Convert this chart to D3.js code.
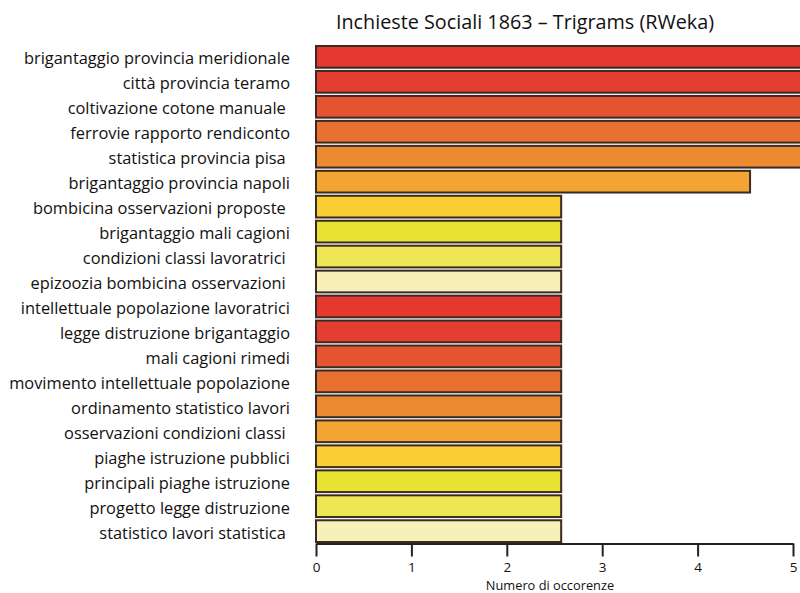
<!DOCTYPE html>
<html><head><meta charset="utf-8">
<script src="https://cdn.jsdelivr.net/npm/d3@7"></script>
<style>
body{margin:0;background:#fff;}
text{font-family:"Open Sans","Noto Sans",sans-serif;fill:#111;}
</style></head>
<body><svg id="c" width="800" height="593"></svg>
<script>
const categories = [
 "brigantaggio provincia meridionale",
 "città provincia teramo",
 "coltivazione cotone manuale ",
 "ferrovie rapporto rendiconto",
 "statistica provincia pisa ",
 "brigantaggio provincia napoli",
 "bombicina osservazioni proposte ",
 "brigantaggio mali cagioni",
 "condizioni classi lavoratrici ",
 "epizoozia bombicina osservazioni ",
 "intellettuale popolazione lavoratrici",
 "legge distruzione brigantaggio",
 "mali cagioni rimedi",
 "movimento intellettuale popolazione",
 "ordinamento statistico lavori",
 "osservazioni condizioni classi ",
 "piaghe istruzione pubblici",
 "principali piaghe istruzione",
 "progetto legge distruzione",
 "statistico lavori statistica "
];
const values = [6,6,6,6,6,4.55,2.57,2.57,2.57,2.57,2.57,2.57,2.57,2.57,2.57,2.57,2.57,2.57,2.57,2.57];
const palette = ["#e5392f","#e53d30","#e55430","#e87030","#ec8a32","#f2a533","#fbcd35","#e9e232","#eee655","#f7f0b8"];
const xTicks = [0,1,2,3,4,5];
const title = "Inchieste Sociali 1863 – Trigrams (RWeka)";
const xLabel = "Numero di occorenze";

const svg = d3.select("#c");
const x = d3.scaleLinear().domain([0,5]).range([316,793]);
const y = d3.scaleBand().domain(categories.map((d,i)=>i)).range([44.5,543.5]).paddingInner(0.13).paddingOuter(0.06);

svg.append("text").attr("x",525).attr("y",29).attr("text-anchor","middle")
  .style("font-size","19.8px").text(title);

svg.append("g").selectAll("rect").data(values).join("rect")
  .attr("x",x(0)).attr("y",(d,i)=>y(i))
  .attr("width",d=>x(d)-x(0)).attr("height",y.bandwidth())
  .attr("fill",(d,i)=>palette[i%palette.length])
  .attr("stroke","#3a2a22").attr("stroke-width",2);

svg.append("g").selectAll("text").data(categories).join("text")
  .attr("x",290).attr("y",(d,i)=>y(i)+y.bandwidth()/2+1)
  .attr("text-anchor","end").attr("dominant-baseline","central")
  .style("font-size","16.4px").style("white-space","pre")
  .text(d=>d);

const ax = svg.append("g").attr("transform","translate(0,543.5)")
  .call(d3.axisBottom(x).tickValues(xTicks).tickFormat(d3.format("d")).tickSize(13).tickSizeOuter(0).tickPadding(6));
ax.select(".domain").attr("stroke","#222").attr("stroke-width",2);
ax.selectAll(".tick line").attr("stroke","#222").attr("stroke-width",2);
ax.selectAll(".tick text").style("font-size","13.5px").attr("fill","#111").style("font-family","'Open Sans',sans-serif");

svg.append("text").attr("x",550).attr("y",590).attr("text-anchor","middle")
  .style("font-size","12.8px").text(xLabel);
</script></body></html>
